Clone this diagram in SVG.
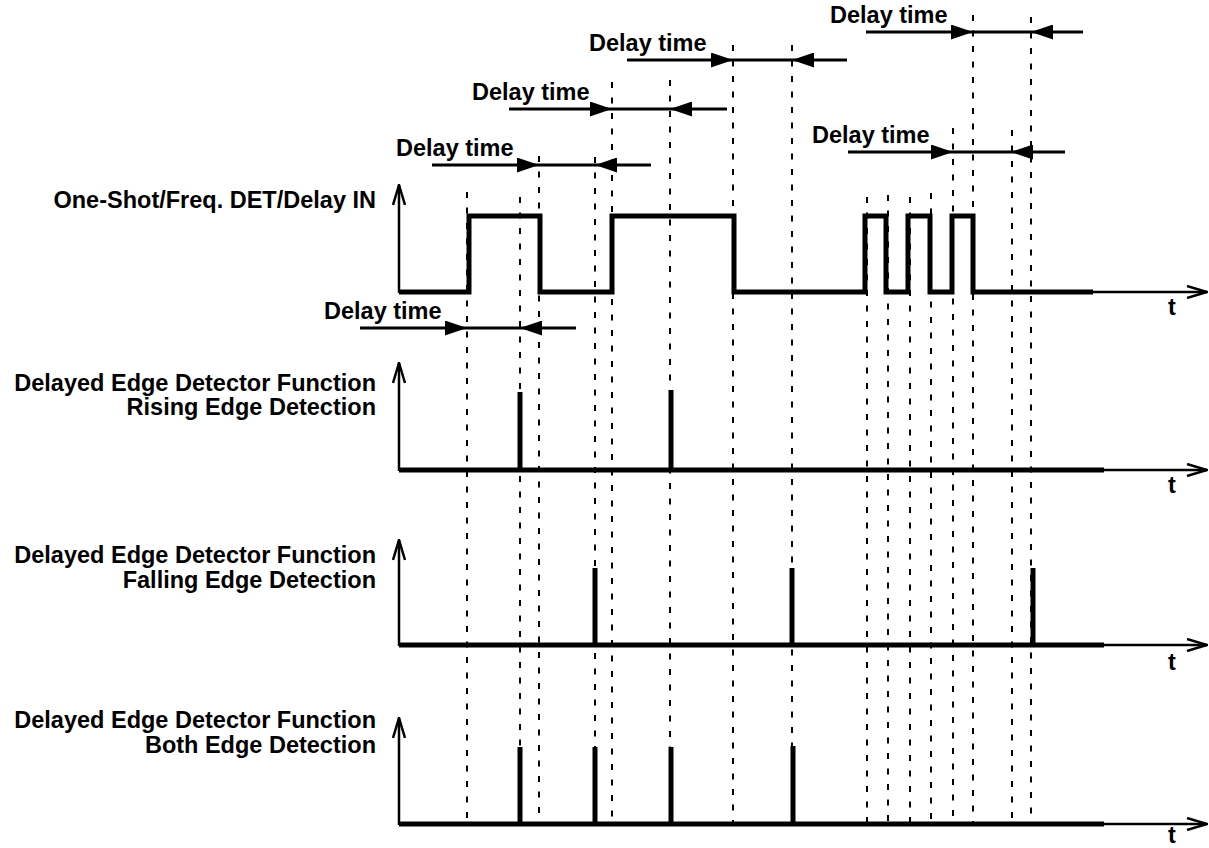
<svg xmlns="http://www.w3.org/2000/svg" width="1209" height="848" viewBox="0 0 1209 848">
<style>
.lbl{font-family:"Liberation Sans",Arial,Helvetica,sans-serif;font-weight:bold;font-size:23.5px;fill:#000}
.r{text-anchor:end}
.m{text-anchor:middle}
.dash{stroke:#000;stroke-width:2;stroke-dasharray:6 9.5;fill:none}
.sig{stroke:#000;stroke-width:5;fill:none;stroke-linejoin:miter}
.axis{stroke:#000;stroke-width:2.5;fill:none}
.dl{stroke:#000;stroke-width:3;fill:none}
</style>
<defs>
<marker id="openArrow" viewBox="0 0 22 14" refX="21" refY="7" markerWidth="22" markerHeight="14" markerUnits="userSpaceOnUse" orient="auto">
<path d="M1,1 L21,7 L1,13" fill="none" stroke="#000" stroke-width="2.5"/>
</marker>
<marker id="solidArrow" viewBox="0 0 22 15" refX="22" refY="7.5" markerWidth="22" markerHeight="15" markerUnits="userSpaceOnUse" orient="auto">
<path d="M0,0 L22,7.5 L0,15 z" fill="#000"/>
</marker>
</defs>
<rect width="1209" height="848" fill="#fff"/>

<g id="guides">
<line class="dash" x1="467" y1="192" x2="467" y2="822"/>
<line class="dash" x1="520" y1="197" x2="520" y2="822"/>
<line class="dash" x1="539" y1="156" x2="539" y2="822"/>
<line class="dash" x1="595" y1="157" x2="595" y2="822"/>
<line class="dash" x1="612" y1="82" x2="612" y2="822"/>
<line class="dash" x1="670" y1="80" x2="670" y2="822"/>
<line class="dash" x1="733" y1="45" x2="733" y2="822"/>
<line class="dash" x1="792" y1="45" x2="792" y2="822"/>
<line class="dash" x1="867" y1="197" x2="867" y2="822"/>
<line class="dash" x1="888" y1="195" x2="888" y2="822"/>
<line class="dash" x1="910" y1="197" x2="910" y2="822"/>
<line class="dash" x1="931" y1="193" x2="931" y2="822"/>
<line class="dash" x1="953" y1="128" x2="953" y2="822"/>
<line class="dash" x1="973" y1="15" x2="973" y2="822"/>
<line class="dash" x1="1012" y1="130" x2="1012" y2="822"/>
<line class="dash" x1="1031" y1="17" x2="1031" y2="822"/>
</g>

<g id="row-input">
<text class="lbl r" x="376" y="208">One-Shot/Freq. DET/Delay IN</text>
<line class="axis" x1="399" y1="293" x2="399" y2="185" marker-end="url(#openArrow)"/>
<polyline class="sig" points="399,292 469,292 469,216 540,216 540,292 612,292 612,216 734,216 734,292 865,292 865,216 886,216 886,292 908,292 908,216 930,216 930,292 952,292 952,216 973,216 973,292 1093,292"/>
<line class="axis" x1="1093" y1="292" x2="1207" y2="292" marker-end="url(#openArrow)"/>
<text class="lbl m" x="1172" y="315">t</text>
</g>

<g id="row-rising">
<text class="lbl r" x="376" y="391">Delayed Edge Detector Function</text>
<text class="lbl r" x="376" y="415">Rising Edge Detection</text>
<line class="axis" x1="399" y1="471" x2="399" y2="363" marker-end="url(#openArrow)"/>
<line class="sig" x1="399" y1="470" x2="1104" y2="470"/>
<line class="axis" x1="1104" y1="470" x2="1207" y2="470" marker-end="url(#openArrow)"/>
<line class="sig" x1="520" y1="470" x2="520" y2="392"/>
<line class="sig" x1="671" y1="470" x2="671" y2="390"/>
<text class="lbl m" x="1172" y="493">t</text>
</g>

<g id="row-falling">
<text class="lbl r" x="376" y="563">Delayed Edge Detector Function</text>
<text class="lbl r" x="376" y="588">Falling Edge Detection</text>
<line class="axis" x1="399" y1="646" x2="399" y2="540" marker-end="url(#openArrow)"/>
<line class="sig" x1="399" y1="645" x2="1104" y2="645"/>
<line class="axis" x1="1104" y1="645" x2="1207" y2="645" marker-end="url(#openArrow)"/>
<line class="sig" x1="595" y1="645" x2="595" y2="568"/>
<line class="sig" x1="792" y1="645" x2="792" y2="568"/>
<line class="sig" x1="1033" y1="645" x2="1033" y2="568"/>
<text class="lbl m" x="1172" y="670">t</text>
</g>

<g id="row-both">
<text class="lbl r" x="376" y="728">Delayed Edge Detector Function</text>
<text class="lbl r" x="376" y="753">Both Edge Detection</text>
<line class="axis" x1="399" y1="825" x2="399" y2="718" marker-end="url(#openArrow)"/>
<line class="sig" x1="399" y1="824" x2="1104" y2="824"/>
<line class="axis" x1="1104" y1="824" x2="1207" y2="824" marker-end="url(#openArrow)"/>
<line class="sig" x1="520" y1="824" x2="520" y2="747"/>
<line class="sig" x1="595" y1="824" x2="595" y2="747"/>
<line class="sig" x1="671" y1="824" x2="671" y2="747"/>
<line class="sig" x1="793" y1="824" x2="793" y2="746"/>
<text class="lbl m" x="1172" y="843">t</text>
</g>

<g id="connectors">
<g id="delay1">
<text class="lbl" x="396" y="156">Delay time</text>
<line class="dl" x1="432" y1="165" x2="539" y2="165" marker-end="url(#solidArrow)"/>
<line class="dl" x1="539" y1="165" x2="595" y2="165"/>
<line class="dl" x1="651" y1="165" x2="595" y2="165" marker-end="url(#solidArrow)"/>
</g>
<g id="delay2">
<text class="lbl" x="472" y="100">Delay time</text>
<line class="dl" x1="509" y1="109" x2="612" y2="109" marker-end="url(#solidArrow)"/>
<line class="dl" x1="612" y1="109" x2="670" y2="109"/>
<line class="dl" x1="727" y1="109" x2="670" y2="109" marker-end="url(#solidArrow)"/>
</g>
<g id="delay3">
<text class="lbl" x="589" y="51">Delay time</text>
<line class="dl" x1="627" y1="60" x2="733" y2="60" marker-end="url(#solidArrow)"/>
<line class="dl" x1="733" y1="60" x2="792" y2="60"/>
<line class="dl" x1="847" y1="60" x2="792" y2="60" marker-end="url(#solidArrow)"/>
</g>
<g id="delay4">
<text class="lbl" x="812" y="143">Delay time</text>
<line class="dl" x1="848" y1="152" x2="953" y2="152" marker-end="url(#solidArrow)"/>
<line class="dl" x1="953" y1="152" x2="1011" y2="152"/>
<line class="dl" x1="1065" y1="152" x2="1011" y2="152" marker-end="url(#solidArrow)"/>
</g>
<g id="delay5">
<text class="lbl" x="830" y="23">Delay time</text>
<line class="dl" x1="866" y1="32" x2="973" y2="32" marker-end="url(#solidArrow)"/>
<line class="dl" x1="973" y1="32" x2="1031" y2="32"/>
<line class="dl" x1="1083" y1="32" x2="1031" y2="32" marker-end="url(#solidArrow)"/>
</g>
<g id="delay6">
<text class="lbl" x="324" y="319">Delay time</text>
<line class="dl" x1="360" y1="328" x2="467" y2="328" marker-end="url(#solidArrow)"/>
<line class="dl" x1="467" y1="328" x2="520" y2="328"/>
<line class="dl" x1="576" y1="328" x2="520" y2="328" marker-end="url(#solidArrow)"/>
</g>
</g>
</svg>
